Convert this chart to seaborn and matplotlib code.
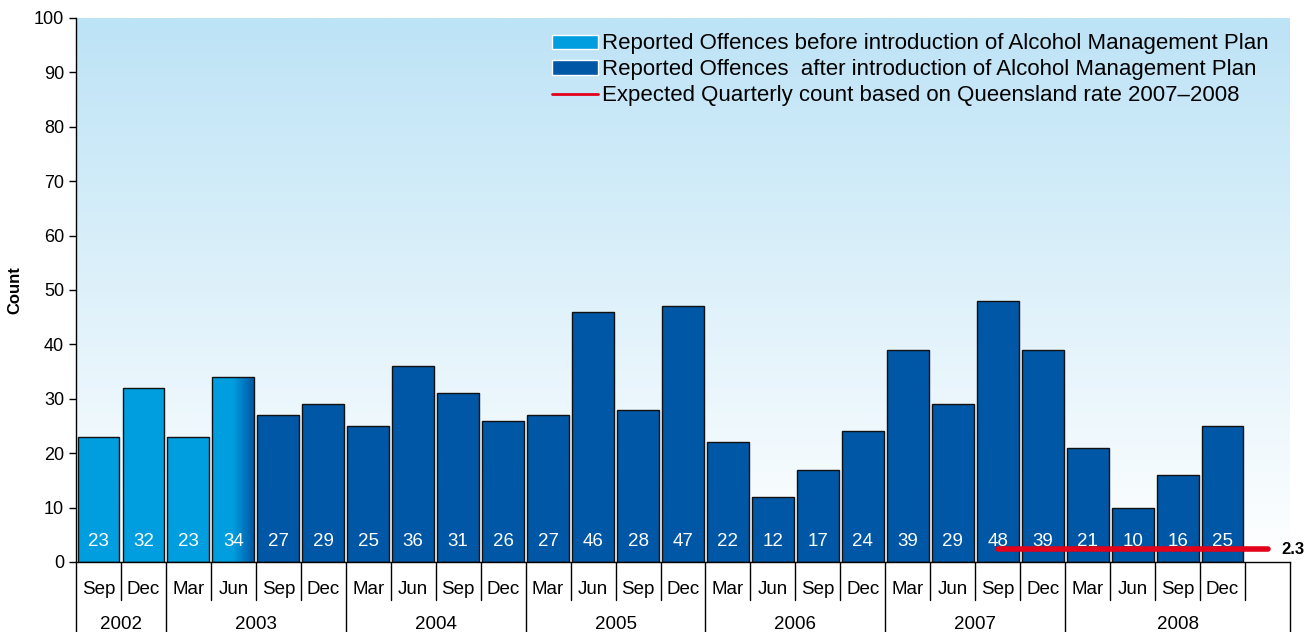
import matplotlib.pyplot as plt
import matplotlib.transforms as mtransforms
from matplotlib.colors import LinearSegmentedColormap
from matplotlib.patches import Patch
from matplotlib.lines import Line2D
import numpy as np
import pandas as pd
import seaborn as sns

# ── data ────────────────────────────────────────────────────────
months = ["Sep", "Dec",
          "Mar", "Jun", "Sep", "Dec",
          "Mar", "Jun", "Sep", "Dec",
          "Mar", "Jun", "Sep", "Dec",
          "Mar", "Jun", "Sep", "Dec",
          "Mar", "Jun", "Sep", "Dec",
          "Mar", "Jun", "Sep", "Dec"]
years = ["2002"] * 2 + ["2003"] * 4 + ["2004"] * 4 + ["2005"] * 4 + \
        ["2006"] * 4 + ["2007"] * 4 + ["2008"] * 4
counts = [23, 32, 23, 34, 27, 29, 25, 36, 31, 26, 27, 46, 28, 47,
          22, 12, 17, 24, 39, 29, 48, 39, 21, 10, 16, 25]
phase = ["before"] * 3 + ["transition"] + ["after"] * 22

expected_rate = 2.3
expected_from = "2007 Sep"
year_labels = ["2002", "2003", "2004", "2005", "2006", "2007", "2008"]

legend_labels = ["Reported Offences before introduction of Alcohol Management Plan",
                 "Reported Offences  after introduction of Alcohol Management Plan",
                 "Expected Quarterly count based on Queensland rate 2007\u20132008"]

# ── colours ─────────────────────────────────────────────────────
c_before = "#009EDF"
c_after = "#0057A5"
c_red = "#E2001A"

quarters = [f"{y} {m}" for y, m in zip(years, months)]
order = quarters + ["pad"]   # empty slot at the right end
df = pd.DataFrame({"quarter": quarters, "count": counts, "phase": phase})

sns.set_style("ticks")
plt.rcParams["font.family"] = ["Liberation Sans", "DejaVu Sans"]
plt.rcParams["text.color"] = "black"
plt.rcParams["xtick.color"] = "black"
plt.rcParams["ytick.color"] = "black"
plt.rcParams["axes.labelcolor"] = "black"

fig = plt.figure(figsize=(13.16, 6.32), dpi=100)
ax = fig.add_axes([76 / 1316, 70 / 632, 1214 / 1316, 544 / 632])

# background gradient (light blue at top -> white at bottom)
bg = LinearSegmentedColormap.from_list("bg", ["#FFFFFF", "#BDE3F6"])
ax.imshow(np.linspace(0, 1, 256).reshape(-1, 1), cmap=bg, origin="lower",
          extent=[0, 1, 0, 1], transform=ax.transAxes, aspect="auto", zorder=0)

sns.barplot(data=df, x="quarter", y="count", hue="phase", order=order,
            palette={"before": c_before, "transition": c_after, "after": c_after},
            dodge=False, width=0.93, edgecolor="#111111", linewidth=1,
            saturation=1, legend=False, ax=ax, zorder=2)

# horizontal gradient on the transition bar
grad = LinearSegmentedColormap.from_list("tr", [c_before, c_before, c_after])
i_tr = phase.index("transition")
for p in ax.patches:
    x0, w, h = p.get_x(), p.get_width(), p.get_height()
    if abs(h - counts[i_tr]) < 1e-9 and abs(x0 + w / 2 - i_tr) < 1e-6:
        im = ax.imshow(np.linspace(0, 1, 256).reshape(1, -1), cmap=grad,
                       extent=[x0, x0 + w, 0, h], aspect="auto", zorder=2.5)
        im.set_clip_path(p)
        p.set_facecolor("none")
        p.set_zorder(3)

# values inside bars
for i, v in enumerate(counts):
    ax.text(i, 3.7, str(v), color="white", ha="center", va="center",
            fontsize=13.5, zorder=4)

# expected count line
x_start = quarters.index(expected_from)
ax.plot([x_start, len(order) - 1], [expected_rate, expected_rate],
        color=c_red, lw=4, solid_capstyle="round", zorder=5)
ax.annotate(f"{expected_rate}", xy=(len(order) - 1, expected_rate),
            xytext=(10, 0), textcoords="offset points", va="center",
            fontsize=12, fontweight="bold", annotation_clip=False)

ax.set_xlim(-0.5, len(order) - 0.5)
ax.set_ylim(0, 100)
ax.set_yticks(range(0, 101, 10))
ax.tick_params(axis="y", labelsize=13, length=5, width=1, color="black")
ax.set_xticks(range(len(order)))
ax.set_xticklabels(months + [""])
ax.tick_params(axis="x", length=0, pad=14, labelsize=13.5)
ax.set_xlabel("")
ax.set_ylabel("Count", fontsize=12, fontweight="bold", labelpad=8)
sns.despine(ax=ax)
for s in ["left", "bottom"]:
    ax.spines[s].set_color("black")
    ax.spines[s].set_linewidth(1)
    ax.spines[s].set_zorder(6)

# two-row category axis
tr = mtransforms.blended_transform_factory(ax.transData, ax.transAxes)
year_starts = [0] + [years.index(y) for y in year_labels[1:]] + [len(order)]
for i in range(len(order) + 1):
    bottom = -0.13 if (i in year_starts) else -0.07
    ax.plot([i - 0.5, i - 0.5], [0, bottom], color="black", lw=1,
            transform=tr, clip_on=False)
for k, y in enumerate(year_labels):
    xc = (year_starts[k] + year_starts[k + 1] - 1) / 2
    ax.text(xc, -0.114, y, transform=tr, ha="center", va="center", fontsize=13.5)

handles = [Patch(facecolor=c_before), Patch(facecolor=c_after),
           Line2D([], [], color=c_red, lw=2)]
ax.legend(handles, legend_labels, loc="upper right", bbox_to_anchor=(0.99, 0.988),
          frameon=False, fontsize=16, handlelength=2.05, handleheight=0.6,
          handletextpad=0.2, labelspacing=0.22, borderaxespad=0)

plt.savefig("out.png", dpi=100)
